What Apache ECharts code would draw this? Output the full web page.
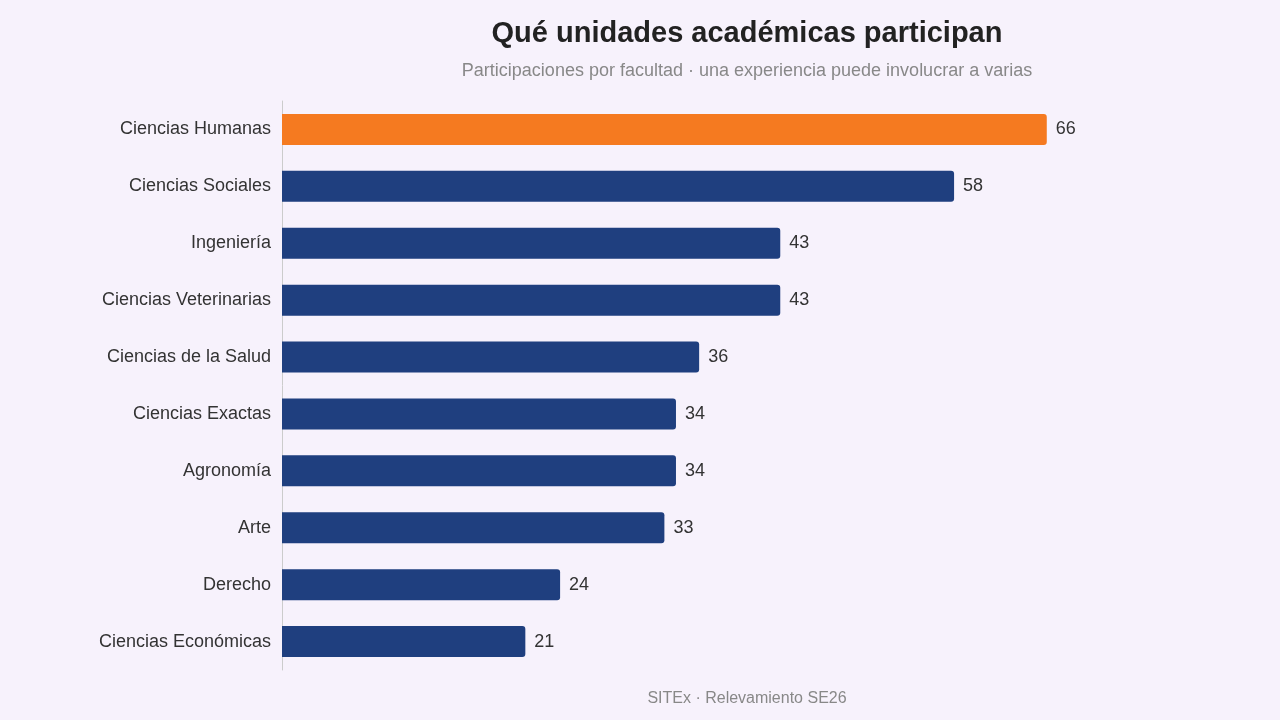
<!DOCTYPE html>
<html>
<head>
<meta charset="utf-8">
<script src="https://cdn.jsdelivr.net/npm/echarts@6/dist/echarts.min.js"></script>
<style>
html, body { margin: 0; padding: 0; background: #f7f2fc; }
#chart { width: 1280px; height: 720px; }
</style>
</head>
<body>
<div id="chart"></div>
<script>
var categories = ['Ciencias Humanas', 'Ciencias Sociales', 'Ingeniería', 'Ciencias Veterinarias',
	'Ciencias de la Salud', 'Ciencias Exactas', 'Agronomía', 'Arte', 'Derecho', 'Ciencias Económicas'];
var values = [66, 58, 43, 43, 36, 34, 34, 33, 24, 21];

var chart = echarts.init(document.getElementById('chart'));

chart.setOption({
	backgroundColor: '#f7f2fc',
	textStyle: { fontFamily: 'Liberation Sans, Arial, sans-serif' },
	title: [{
		text: 'Qué unidades académicas participan',
		subtext: 'Participaciones por facultad · una experiencia puede involucrar a varias',
		left: 742, top: 14, textAlign: 'center',
		textStyle: { fontSize: 29, fontWeight: 'bold', color: '#222' },
		subtextStyle: { fontSize: 18, color: '#888' },
		itemGap: 14
	}, {
		text: 'SITEx · Relevamiento SE26',
		left: 742, top: 686, textAlign: 'center',
		textStyle: { fontSize: 16, fontWeight: 'normal', color: '#888' }
	}],
	grid: { left: 282, right: 71, top: 101, bottom: 50 },
	xAxis: { type: 'value', min: 0, max: 80, show: false },
	yAxis: {
		type: 'category',
		data: categories,
		inverse: true,
		axisLine: { show: true, lineStyle: { color: '#ccc' } },
		axisTick: { show: false },
		axisLabel: { fontSize: 18, color: '#333', margin: 11 }
	},
	series: [{
		type: 'bar',
		barWidth: 31,
		data: values.map(function (v, i) {
			return { value: v, itemStyle: { color: i === 0 ? '#f57a20' : '#1f3f7f' } };
		}),
		itemStyle: { borderRadius: [0, 3, 3, 0] },
		label: { show: true, position: 'right', fontSize: 18, color: '#333', distance: 9 }
	}]
});
</script>
</body>
</html>
